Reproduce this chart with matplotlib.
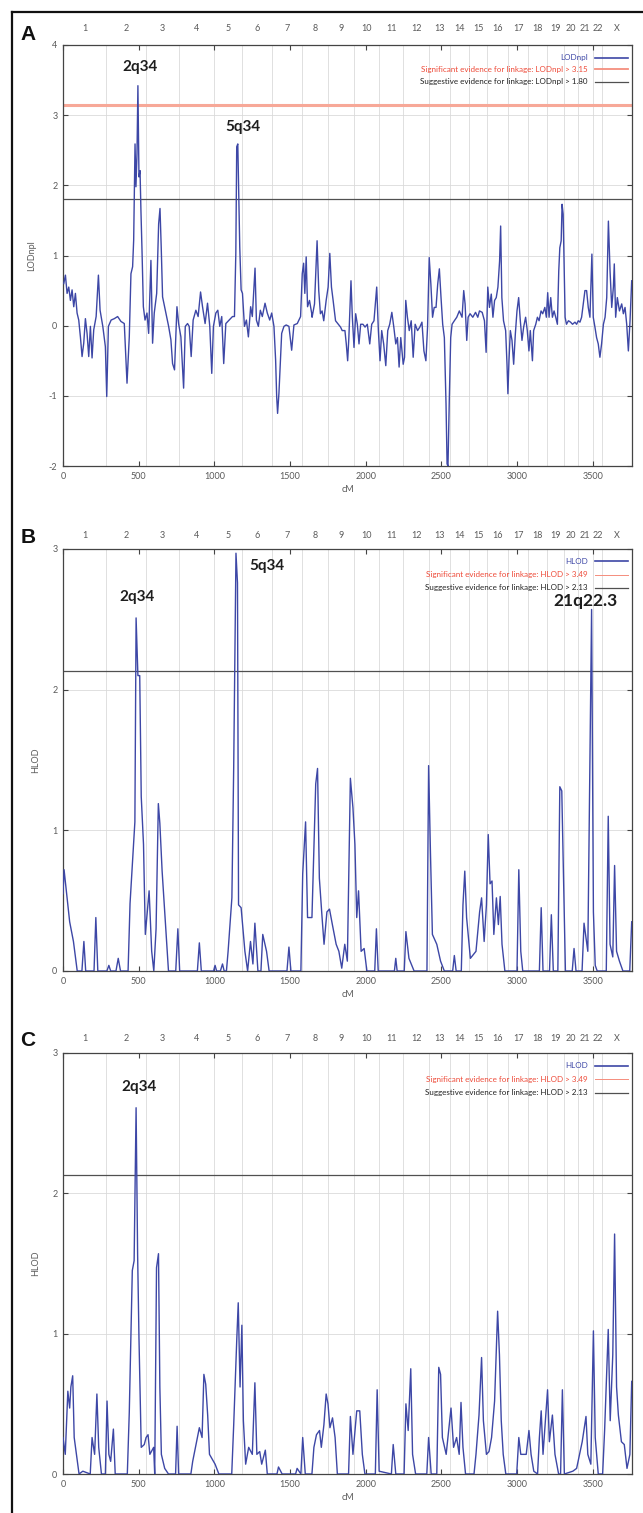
import matplotlib
matplotlib.use("Agg")
import matplotlib.pyplot as plt
from matplotlib.lines import Line2D
from matplotlib.transforms import blended_transform_factory

plt.rcParams['font.family'] = ['Lato', 'DejaVu Sans']
plt.rcParams['axes.unicode_minus'] = False

# Cromosomas (limites en cM)
chrom_names = ['1', '2', '3', '4', '5', '6', '7', '8', '9', '10', '11', '12',
               '13', '14', '15', '16', '17', '18', '19', '20', '21', '22', 'X']
chrom_edges = [0, 285, 548, 768, 998, 1184, 1382, 1579, 1754, 1920, 2087, 2250,
               2420, 2558, 2680, 2805, 2940, 3075, 3200, 3310, 3400, 3500, 3565, 3760]
x_ticks = [0, 500, 1000, 1500, 2000, 2500, 3000, 3500]

# Panel A: LODnpl
cm_a = [5, 16, 27, 38, 49, 60, 71, 82, 93, 104,
        115, 126, 137, 148, 159, 170, 181, 192, 203, 219,
        234, 245, 263, 280, 289, 300, 318, 339, 361, 383,
        405, 423, 438, 449, 460, 467, 476, 482, 489, 495,
        502, 509, 515, 522, 531, 542, 555, 566, 581, 592,
        603, 619, 632, 641, 649, 658, 680, 698, 713, 724,
        737, 753, 764, 779, 797, 808, 823, 834, 847, 860,
        878, 893, 909, 922, 939, 955, 970, 983, 994, 1010,
        1023, 1036, 1049, 1062, 1076, 1098, 1120, 1133, 1142, 1148,
        1155, 1161, 1168, 1177, 1186, 1199, 1212, 1225, 1240, 1251,
        1269, 1278, 1291, 1304, 1317, 1335, 1350, 1366, 1379, 1394,
        1405, 1412, 1418, 1427, 1445, 1460, 1475, 1493, 1511, 1526,
        1548, 1570, 1581, 1590, 1598, 1607, 1616, 1629, 1643,
        1646, 1662, 1679, 1690, 1701, 1712, 1723, 1739, 1752, 1763,
        1774, 1785, 1801, 1819, 1834, 1845, 1863, 1872, 1881, 1889,
        1903, 1912, 1923, 1934, 1945, 1956, 1967, 1982, 1996, 2011,
        2027, 2040, 2055, 2073, 2084, 2095, 2106, 2119, 2133, 2146,
        2159, 2173, 2186, 2199, 2210, 2221, 2232, 2248, 2257, 2265,
        2276, 2288, 2301, 2314, 2327, 2343, 2358, 2372, 2385, 2398,
        2409, 2420, 2431, 2442, 2453, 2465, 2476, 2487, 2498, 2509,
        2520, 2531, 2538, 2544, 2553, 2562, 2571, 2586, 2602, 2619,
        2637, 2648, 2657, 2668, 2677, 2690, 2708, 2726, 2741, 2752,
        2770, 2785, 2796, 2807, 2818, 2830, 2841, 2852, 2863, 2874,
        2885, 2892, 2900, 2911, 2925, 2934, 2940, 2947, 2956, 2967,
        2978, 2989, 3000, 3011, 3022, 3033, 3044, 3057, 3068, 3079,
        3088, 3102, 3110, 3124, 3135, 3146, 3159, 3170, 3184, 3194,
        3203, 3212, 3223, 3234, 3245, 3256, 3267, 3276, 3283, 3292,
        3298, 3305, 3312, 3318, 3327, 3340, 3354, 3367, 3383, 3394,
        3405, 3416, 3427, 3438, 3449, 3460, 3471, 3482, 3495, 3504,
        3515, 3526, 3537, 3548, 3559, 3571, 3582, 3593, 3604, 3615,
        3626, 3637, 3643, 3652, 3663, 3677, 3692, 3703, 3714, 3725,
        3736, 3747, 3758]
lod_a = [0.60, 0.72, 0.46, 0.55, 0.36, 0.51, 0.27, 0.46, 0.18, 0.08,
         -0.16, -0.44, -0.25, 0.10, -0.11, -0.44, -0.01, -0.46, -0.06, 0.13,
         0.72, 0.22, -0.01, -0.30, -1.01, -0.01, 0.08, 0.10, 0.13, 0.06,
         0.03, -0.82, -0.16, 0.74, 0.84, 1.22, 2.59, 1.98, 2.45, 3.42,
         2.12, 2.21, 1.64, 1.08, 0.27, 0.08, 0.18, -0.11, 0.93, -0.25,
         0.18, 0.46, 1.45, 1.67, 1.12, 0.41, 0.18, -0.01, -0.20, -0.54,
         -0.63, 0.27, 0.03, -0.16, -0.89, -0.01, 0.03, -0.01, -0.44, 0.08,
         0.22, 0.13, 0.48, 0.27, 0.03, 0.32, -0.01, -0.68, -0.01, 0.18,
         0.22, -0.01, 0.13, -0.54, 0.03, 0.08, 0.13, 0.13, 1.03, 2.55,
         2.59, 1.88, 1.12, 0.51, 0.46, -0.01, 0.08, -0.16, 0.27, 0.13,
         0.82, 0.08, -0.01, 0.22, 0.13, 0.32, 0.18, 0.08, 0.18, -0.01,
         -0.49, -1.01, -1.25, -0.96, -0.11, -0.01, 0.01, -0.01, -0.35, 0.01,
         0.03, 0.13, 0.74, 0.89, 0.46, 0.98, 0.27, 0.36, 0.18,
         0.12, 0.31, 1.21, 0.50, 0.17, 0.21, 0.07, 0.36, 0.55, 1.03,
         0.55, 0.36, 0.07, 0.02, -0.02, -0.07, -0.07, -0.26, -0.50, -0.17,
         0.64, 0.12, -0.31, 0.17, 0.02, -0.26, 0.02, 0.02, -0.02, 0.02,
         -0.26, 0.02, 0.07, 0.55, -0.07, -0.50, -0.07, -0.26, -0.57, -0.07,
         0.02, 0.19, -0.02, -0.26, -0.17, -0.59, -0.17, -0.55, -0.45, 0.36,
         0.12, -0.07, 0.07, -0.45, 0.02, -0.07, -0.02, 0.05, -0.36, -0.50,
         -0.02, 0.97, 0.59, 0.12, 0.26, 0.26, 0.59, 0.81, 0.40, 0.02,
         -0.17, -1.11, -1.97, -2.00, -1.02, -0.17, 0.02, 0.07, 0.12, 0.21,
         0.12, 0.50, 0.31, -0.21, 0.12, 0.17, 0.12, 0.19, 0.12, 0.21,
         0.19, 0.07, -0.38, 0.55, 0.26, 0.45, 0.12, 0.36, 0.40, 0.55,
         0.92, 1.42, 0.40, 0.07, -0.07, -0.55, -0.97, -0.50, -0.07, -0.21,
         -0.55, -0.12, 0.21, 0.40, 0.07, -0.21, -0.02, 0.12, -0.07, -0.36,
         -0.07, -0.50, -0.07, 0.02, 0.12, 0.07, 0.21, 0.17, 0.26, 0.12,
         0.47, 0.12, 0.40, 0.12, 0.21, 0.12, 0.02, 0.78, 1.11, 1.21,
         1.73, 1.59, 0.78, 0.12, 0.02, 0.07, 0.05, 0.02, 0.05, 0.02,
         0.07, 0.05, 0.12, 0.31, 0.50, 0.50, 0.26, 0.12, 1.02, 0.12,
         -0.02, -0.17, -0.26, -0.45, -0.26, 0.02, 0.12, 0.40, 1.49, 0.78,
         0.26, 0.55, 0.88, 0.12, 0.40, 0.21, 0.31, 0.17, 0.26, 0.02,
         -0.36, 0.07, 0.64]

# Panel B: HLOD
cm_b = [0, 7, 25, 44, 69, 94, 125, 138, 150, 205,
        217, 230, 290, 303, 315, 350, 365, 380, 430, 443,
        475, 483, 495, 507, 517, 532, 544, 569, 586, 600,
        615, 630, 640, 655, 672, 697, 745, 759, 771, 888,
        901, 914, 995, 1005, 1015, 1040, 1054, 1065, 1080, 1091,
        1116, 1128, 1143, 1153, 1160, 1177, 1202, 1220, 1239, 1255,
        1268, 1288, 1308, 1320, 1345, 1362, 1480, 1493, 1506, 1572,
        1584, 1603, 1616, 1645, 1670, 1682, 1694, 1712, 1725, 1744,
        1761, 1780, 1805, 1823, 1842, 1862, 1879, 1899, 1916, 1929,
        1941, 1953, 1970, 1990, 2008, 2060, 2071, 2083, 2190, 2199,
        2208, 2255, 2266, 2286, 2320, 2405, 2416, 2428, 2441, 2470,
        2495, 2520, 2575, 2586, 2598, 2632, 2643, 2655, 2667, 2692,
        2729, 2753, 2766, 2783, 2798, 2810, 2822, 2835, 2847, 2864,
        2877, 2889, 2901, 2920, 3000, 3012, 3025, 3038, 3148, 3160,
        3172, 3215, 3227, 3240, 3270, 3283, 3296, 3308, 3320, 3365,
        3377, 3390, 3430, 3443, 3468, 3493, 3505, 3517, 3530, 3590,
        3603, 3615, 3633, 3645, 3658, 3677, 3700, 3745, 3758]
hlod_b = [0.55, 0.72, 0.54, 0.35, 0.21, 0, 0, 0.21, 0, 0,
          0.38, 0, 0, 0.04, 0, 0, 0.09, 0, 0, 0.48,
          1.06, 2.51, 2.10, 2.10, 1.24, 0.90, 0.26, 0.57, 0.14, 0,
          0.30, 1.19, 1.05, 0.71, 0.42, 0, 0, 0.30, 0, 0,
          0.20, 0, 0, 0.04, 0, 0, 0.05, 0, 0, 0.14,
          0.52, 1.45, 2.97, 2.76, 0.47, 0.45, 0.14, 0, 0.21, 0.05,
          0.34, 0, 0, 0.26, 0.14, 0, 0, 0.17, 0, 0,
          0.69, 1.06, 0.38, 0.38, 1.33, 1.44, 0.66, 0.38, 0.19, 0.42,
          0.44, 0.33, 0.19, 0.14, 0.02, 0.19, 0.07, 1.37, 1.16, 0.90,
          0.38, 0.57, 0.14, 0.16, 0, 0, 0.30, 0, 0, 0.09,
          0, 0, 0.28, 0.09, 0, 0, 1.46, 0.85, 0.26, 0.19,
          0.07, 0, 0, 0.11, 0, 0, 0.47, 0.71, 0.38, 0.09,
          0.14, 0.42, 0.52, 0.21, 0.47, 0.97, 0.62, 0.64, 0.26, 0.52,
          0.33, 0.53, 0.19, 0, 0, 0.72, 0.14, 0, 0, 0.45,
          0, 0, 0.40, 0, 0, 1.31, 1.28, 0.62, 0, 0,
          0.16, 0, 0, 0.34, 0.14, 2.57, 0.42, 0.04, 0, 0,
          1.10, 0.19, 0.10, 0.75, 0.14, 0.07, 0, 0, 0.35]

# Panel C: HLOD
cm_c = [0, 15, 32, 44, 52, 64, 74, 89, 106, 131,
        180, 192, 209, 224, 236, 254, 280, 291, 303, 315,
        333, 345, 425, 438, 458, 470, 483, 493, 502, 517,
        537, 549, 562, 574, 599, 606, 618, 631, 640, 650,
        672, 697, 744, 754, 764, 845, 857, 901, 919, 931,
        943, 956, 968, 1005, 1030, 1115, 1128, 1148, 1158, 1170,
        1182, 1192, 1207, 1227, 1251, 1268, 1281, 1300, 1313, 1337,
        1350, 1414, 1424, 1448, 1537, 1547, 1572, 1584, 1601, 1645,
        1658, 1675, 1695, 1707, 1724, 1739, 1751, 1764, 1781, 1798,
        1813, 1887, 1899, 1916, 1941, 1961, 1978, 1995, 2064, 2076,
        2089, 2170, 2182, 2199, 2254, 2266, 2281, 2298, 2310, 2330,
        2404, 2416, 2433, 2470, 2483, 2495, 2507, 2532, 2564, 2581,
        2601, 2618, 2630, 2643, 2660, 2716, 2729, 2749, 2766, 2778,
        2798, 2815, 2832, 2852, 2872, 2884, 2896, 2909, 2926, 2998,
        3012, 3025, 3061, 3079, 3093, 3111, 3136, 3148, 3160, 3172,
        3202, 3214, 3234, 3251, 3275, 3288, 3300, 3313, 3369, 3394,
        3431, 3456, 3468, 3488, 3505, 3517, 3537, 3566, 3579, 3603,
        3616, 3633, 3645, 3658, 3670, 3690, 3709, 3727, 3746, 3758]
hlod_c = [0.26, 0.14, 0.59, 0.47, 0.62, 0.70, 0.26, 0.14, 0, 0.02,
          0, 0.26, 0.14, 0.57, 0.19, 0, 0, 0.52, 0.14, 0.09,
          0.32, 0, 0, 0.44, 1.45, 1.52, 2.61, 1.57, 0.97, 0.19,
          0.21, 0.26, 0.28, 0.14, 0.19, 0, 1.47, 1.57, 0.62, 0.14,
          0.04, 0, 0, 0.34, 0, 0, 0.09, 0.33, 0.26, 0.71,
          0.64, 0.42, 0.14, 0.07, 0, 0, 0.35, 0.95, 1.22, 0.62,
          1.06, 0.38, 0.07, 0.19, 0.14, 0.65, 0.14, 0.16, 0.07, 0.17,
          0, 0, 0.05, 0, 0, 0.04, 0, 0.26, 0, 0,
          0.19, 0.28, 0.31, 0.19, 0.35, 0.57, 0.50, 0.33, 0.40, 0.26,
          0, 0, 0.41, 0.14, 0.45, 0.45, 0.14, 0, 0, 0.60,
          0.02, 0, 0.21, 0, 0, 0.50, 0.31, 0.75, 0.14, 0,
          0, 0.26, 0, 0, 0.76, 0.71, 0.26, 0.14, 0.47, 0.19,
          0.26, 0.14, 0.51, 0.19, 0, 0, 0.14, 0.42, 0.83, 0.38,
          0.14, 0.16, 0.26, 0.52, 1.16, 0.85, 0.38, 0.14, 0, 0,
          0.26, 0.14, 0.14, 0.31, 0.14, 0.02, 0, 0.26, 0.45, 0.14,
          0.60, 0.23, 0.42, 0.14, 0, 0, 0.60, 0, 0.02, 0.04,
          0.23, 0.41, 0.14, 0.07, 1.02, 0.26, 0, 0, 0.31, 1.03,
          0.38, 0.85, 1.71, 0.62, 0.42, 0.23, 0.21, 0.04, 0.14, 0.66]

# Umbrales
sig_a, sug_a = 3.15, 1.80
sig_h, sug_h = 3.49, 2.13

BLUE = '#3d47a6'
RED_TXT = '#ee4a38'
GRID = '#dadada'
TXT = '#5a5a5a'

W, H = 643, 1513
fig = plt.figure(figsize=(W / 100, H / 100), dpi=100)


def make_axes(top, bottom, left=63, right=632):
    return fig.add_axes([left / W, 1 - bottom / H, (right - left) / W, (bottom - top) / H])


def panel(ax, cm, val, ylim, yticks, ylab, name, sig, sug, sig_lw, lab_off, legend_y):
    ax.set_xlim(0, 3760)
    ax.set_ylim(*ylim)
    for e in chrom_edges[1:-1]:
        ax.axvline(e, color=GRID, lw=0.6, zorder=0)
    for y in yticks:
        ax.axhline(y, color=GRID, lw=0.6, zorder=0)
    ax.axhline(sig, color='#f7a898', lw=sig_lw, zorder=2)
    ax.axhline(sug, color='#505050', lw=0.9, zorder=2)
    ax.plot(cm, val, color=BLUE, lw=1.0, zorder=3)

    ax.set_xticks(x_ticks)
    ax.set_yticks(yticks)
    ax.tick_params(direction='in', length=3.5, width=0.8, top=True, right=True,
                   labelsize=6.5, labelcolor=TXT, color='#444444', pad=4)
    for s in ax.spines.values():
        s.set_color('#444444')
        s.set_linewidth(0.9)
    ax.set_xlabel('cM', fontsize=6.5, color=TXT, labelpad=3)
    ax.set_ylabel(ylab, fontsize=6.5, color=TXT, labelpad=9)

    trans = blended_transform_factory(ax.transData, ax.transAxes)
    for i, c in enumerate(chrom_names):
        mid = (chrom_edges[i] + chrom_edges[i + 1]) / 2
        ax.annotate(c, xy=(mid, 1), xycoords=trans, xytext=(0, lab_off),
                    textcoords='offset points', ha='center', va='center',
                    fontsize=6.5, color=TXT)

    # leyenda
    rows = [(name, BLUE, BLUE, 1.2),
            ('Significant evidence for linkage: %s > %.2f' % (name, sig), RED_TXT, '#f59080', sig_lw * 0.6),
            ('Suggestive evidence for linkage: %s > %.2f' % (name, sug), '#222222', '#505050', 0.9)]
    for (txt, tc, lc, lw), yy in zip(rows, legend_y):
        ax.text(0.922, yy, txt, transform=ax.transAxes, ha='right', va='center',
                fontsize=5.8, color=tc)
        ax.add_line(Line2D([0.935, 0.993], [yy, yy], transform=ax.transAxes,
                           color=lc, lw=lw))


def note(ax, x, y, s, size=11):
    ax.text(x, y, s, ha='center', va='center', fontsize=size, fontweight='bold',
            color='#1e1e1e', zorder=5)


ax_a = make_axes(45, 466)
panel(ax_a, cm_a, lod_a, (-2, 4), [-2, -1, 0, 1, 2, 3, 4], 'LODnpl', 'LODnpl',
      sig_a, sug_a, 2.2, 12, [0.970, 0.942, 0.913])
note(ax_a, 508, 3.69, '2q34')
note(ax_a, 1187, 2.83, '5q34')

ax_b = make_axes(549, 971)
panel(ax_b, cm_b, hlod_b, (0, 3), [0, 1, 2, 3], 'HLOD', 'HLOD',
      sig_h, sug_h, 1.2, 10, [0.971, 0.939, 0.908])
note(ax_b, 490, 2.66, '2q34')
note(ax_b, 1350, 2.88, '5q34')
note(ax_b, 3456, 2.63, '21q22.3', size=12.5)

ax_c = make_axes(1053, 1474)
panel(ax_c, cm_c, hlod_c, (0, 3), [0, 1, 2, 3], 'HLOD', 'HLOD',
      sig_h, sug_h, 1.2, 10.5, [0.970, 0.938, 0.906])
note(ax_c, 500, 2.76, '2q34')

# letras de panel
for let, yp in [('A', 34), ('B', 538), ('C', 1041)]:
    fig.text(28 / W, 1 - yp / H, let, fontsize=15, fontweight='bold',
             family='Liberation Sans', ha='center', va='center', color='#111111')

# marco exterior
fig.add_artist(Line2D([12 / W, 12 / W], [0, 1 - 12 / H], transform=fig.transFigure,
                      color='#111111', lw=1.6))
fig.add_artist(Line2D([12 / W, 1], [1 - 12 / H, 1 - 12 / H], transform=fig.transFigure,
                      color='#111111', lw=1.6))

fig.savefig('out.png', dpi=100)
